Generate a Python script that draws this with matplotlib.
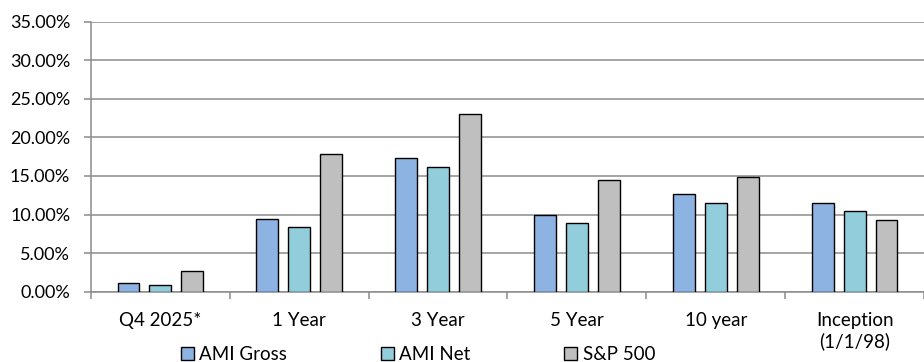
import matplotlib
matplotlib.use("Agg")
import matplotlib.pyplot as plt
import numpy as np
from matplotlib.ticker import FuncFormatter, FixedLocator

# Annualized returns by period
categories = ["Q4 2025*", "1 Year", "3 Year", "5 Year", "10 year", "Inception\n(1/1/98)"]
ami_gross = [1.09, 9.40, 17.30, 9.95, 12.65, 11.45]
ami_net = [0.85, 8.35, 16.20, 8.90, 11.55, 10.40]
sp500 = [2.70, 17.90, 23.00, 14.45, 14.90, 9.25]
series_names = ["AMI Gross", "AMI Net", "S&P 500"]
y_ticks = [0, 5, 10, 15, 20, 25, 30, 35]

colors = ["#8DB3E2", "#92CDDC", "#BFBFBF"]
grid_color = "#8C8C8C"

plt.rcParams["font.family"] = ["Lato", "DejaVu Sans"]

fig = plt.figure(figsize=(9.24, 3.62), dpi=100)
ax = fig.add_axes([91 / 924, (362 - 291.7) / 362, 833 / 924, 270 / 362])

x = np.arange(len(categories))
offset = 0.23
width = 0.158
for i, (vals, name) in enumerate(zip([ami_gross, ami_net, sp500], series_names)):
    ax.bar(x + (i - 1) * offset, vals, width, color=colors[i], edgecolor="black",
           linewidth=1.0, label=name, zorder=3)

ax.set_xlim(-0.5, len(categories) - 0.5)
ax.set_ylim(0, 35)
ax.set_yticks(y_ticks)
ax.yaxis.set_major_formatter(FuncFormatter(lambda v, p: f"{v:.2f}%"))
ax.grid(axis="y", color=grid_color, linewidth=1.1, zorder=0)
ax.set_axisbelow(True)

# category boundaries carry the tick marks, centers carry the labels
ax.xaxis.set_major_locator(FixedLocator(np.arange(-0.5, len(categories), 1.0)))
ax.xaxis.set_minor_locator(FixedLocator(x))
ax.set_xticklabels([])
ax.set_xticks(x, minor=True)
ax.set_xticklabels(categories, minor=True)
ax.tick_params(axis="x", which="major", length=5, width=1.1, color=grid_color, direction="out")
ax.tick_params(axis="x", which="minor", length=0, pad=14.5, labelsize=13.5, labelcolor="black")
ax.tick_params(axis="y", length=5, width=1.1, color=grid_color, direction="out",
               pad=10, labelsize=13, labelcolor="black")

for side in ["top", "right"]:
    ax.spines[side].set_visible(False)
for side in ["left", "bottom"]:
    ax.spines[side].set_color(grid_color)
    ax.spines[side].set_linewidth(1.1)

leg = fig.legend(loc="center", bbox_to_anchor=(418 / 924, (362 - 354.5) / 362), ncol=3,
                 frameon=False, fontsize=13.5, handlelength=0.68, handleheight=0.68,
                 handletextpad=0.3, columnspacing=5.0, borderpad=0, borderaxespad=0)

fig.savefig("out.png", dpi=100)
